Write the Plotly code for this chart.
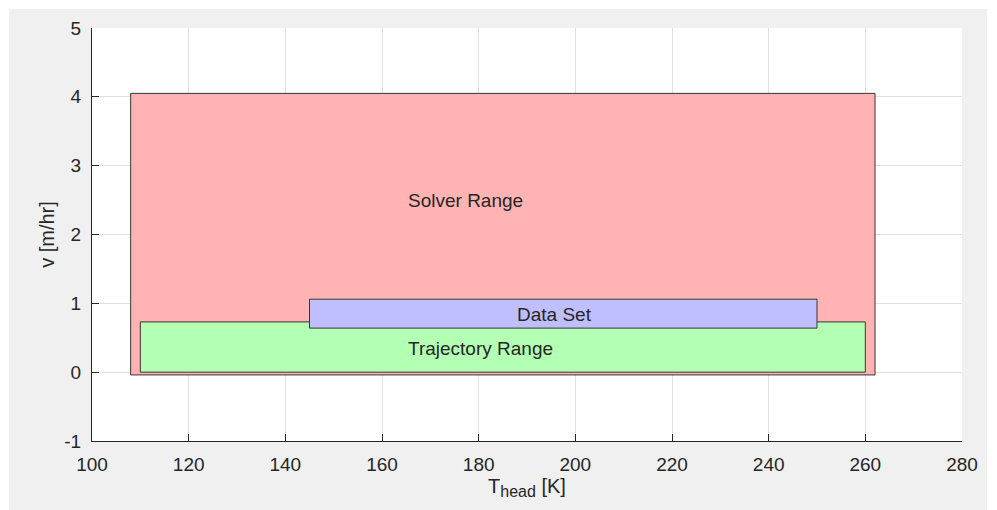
import plotly.graph_objects as go

# Axis ticks
t_ticks = list(range(100, 281, 20))
v_ticks = list(range(-1, 6))
v_tick_text = [str(v) for v in v_ticks]  # plain hyphen for negatives

# Operating regions (temperature span x velocity span)
region_names = ["Solver Range", "Trajectory Range", "Data Set"]
t_min = [108, 110, 145]
t_max = [262, 260, 250]
v_min = [-0.04, 0.0, 0.64]
v_max = [4.05, 0.73, 1.06]

# Label anchors (left edge, vertical middle) in data units
label_t = [165, 165, 187.5]
label_v = [2.5, 0.35, 0.84]

fill_colors = ["#ffb3b3", "#b3ffb3", "#bfbfff"]
edge_color = "#353535"
ink = "#262626"
font_family = "Liberation Sans, Arial, Helvetica, sans-serif"

W, H = 997, 510
M = dict(l=92, r=35, t=28, b=69)

fig = go.Figure()

for name, x0, x1, y0, y1, col in zip(region_names, t_min, t_max, v_min, v_max, fill_colors):
    fig.add_trace(go.Scatter(
        x=[x0, x1, x1, x0, x0],
        y=[y0, y0, y1, y1, y0],
        mode="lines",
        fill="toself",
        fillcolor=col,
        line=dict(color=edge_color, width=1),
        name=name,
        hoverinfo="name",
        showlegend=False,
    ))

for name, tx, ty in zip(region_names, label_t, label_v):
    fig.add_annotation(
        x=tx, y=ty, text=name, showarrow=False,
        xanchor="left", yanchor="middle",
        font=dict(family=font_family, size=19, color=ink),
    )

# Figure window: grey panel with a thin white border
pw = W - M["l"] - M["r"]
ph = H - M["t"] - M["b"]


def px_x(p):
    return (p - M["l"]) / pw


def px_y(p):
    return (H - M["b"] - p) / ph


white_strips = [
    (0, 0, W, 9),      # top
    (0, 0, 9, H),      # left
    (987, 0, W, H),    # right
]
for xa, ya, xb, yb in white_strips:
    fig.add_shape(
        type="rect", xref="paper", yref="paper",
        x0=px_x(xa), x1=px_x(xb), y0=px_y(yb), y1=px_y(ya),
        fillcolor="white", line=dict(width=0), layer="above",
    )

axis_common = dict(
    showgrid=True,
    gridcolor="#e1e1e1",
    gridwidth=1,
    zeroline=False,
    showline=True,
    linecolor=ink,
    linewidth=1,
    ticks="inside",
    ticklen=7,
    tickwidth=1,
    tickcolor=ink,
    tickfont=dict(family=font_family, size=19, color=ink),
)

fig.update_xaxes(
    range=[100, 280], tickvals=t_ticks, **axis_common,
    ticklabelstandoff=6,
    title=dict(text='T<sub><span style="font-size:16px">head</span></sub> [K]', standoff=4,
               font=dict(family=font_family, size=20, color=ink)),
)
fig.update_yaxes(
    range=[-1, 5], tickvals=v_ticks, ticktext=v_tick_text, **axis_common,
    ticklabelstandoff=6,
    title=dict(text="v [m/hr]", standoff=4,
               font=dict(family=font_family, size=20, color=ink)),
)

fig.update_layout(
    width=W, height=H,
    margin=M,
    paper_bgcolor="#f0f0f0",
    plot_bgcolor="white",
    font=dict(family=font_family, color=ink),
)

fig.write_html("out.html")
